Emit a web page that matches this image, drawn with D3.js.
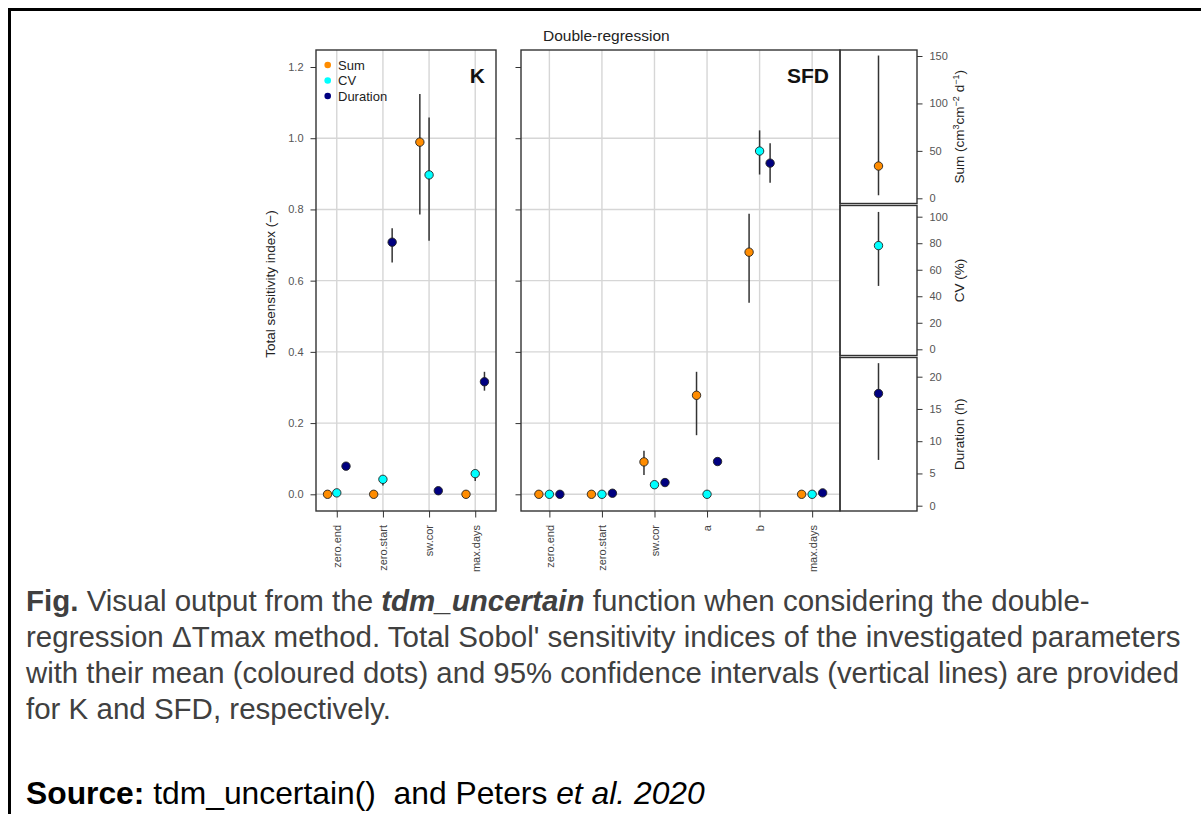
<!DOCTYPE html>
<html>
<head>
<meta charset="utf-8">
<script src="https://cdn.jsdelivr.net/npm/d3@7"></script>
<style>
  body { margin: 0; background: #fff; }
  svg { display: block; }
  text { font-family: "Liberation Sans", Arial, Helvetica, sans-serif; }
</style>
</head>
<body>
<svg id="fig" width="1201" height="814"></svg>
<script>
// ---- Parameters and series ----
const kParams   = ["zero.end", "zero.start", "sw.cor", "max.days"];
const sfdParams = ["zero.end", "zero.start", "sw.cor", "a", "b", "max.days"];
const seriesNames  = ["Sum", "CV", "Duration"];
const seriesColors = ["#ff8c00", "#00ffff", "#000080"];

// Total sensitivity index for K (mean, then 95% CI as [low, high] or null)
const kSum      = [0.000, 0.000, 0.989, 0.000];
const kSumCI    = [null, null, [0.786, 1.124], null];
const kCV       = [0.004, 0.042, 0.897, 0.058];
const kCVCI     = [null, [0.025, 0.046], [0.712, 1.058], [0.037, 0.064]];
const kDur      = [0.079, 0.708, 0.010, 0.316];
const kDurCI    = [null, [0.651, 0.747], null, [0.291, 0.344]];

// Total sensitivity index for SFD
const sfdSum    = [0.000, 0.000, 0.091, 0.278, 0.680, 0.000];
const sfdSumCI  = [null, null, [0.054, 0.122], [0.166, 0.344], [0.538, 0.788], null];
const sfdCV     = [0.000, 0.000, 0.027, 0.000, 0.964, 0.000];
const sfdCVCI   = [null, null, null, null, [0.898, 1.022], null];
const sfdDur    = [0.000, 0.003, 0.033, 0.092, 0.930, 0.004];
const sfdDurCI  = [null, null, null, null, [0.875, 0.986], null];

// Output summaries (mean and 95% CI)
const sumMean = 34.0,  sumCI = [3.2, 150.5];
const cvMean  = 78.2,  cvCI  = [47.8, 103.6];
const durMean = 17.4,  durCI = [7.1, 22.1];

// Tick labels
const indexTicks = [0, 0.2, 0.4, 0.6, 0.8, 1.0, 1.2];
const gridTicks  = [0, 0.2, 0.4, 0.6, 0.8, 1.0];
const sumTicks   = [0, 50, 100, 150];
const cvTicks    = [0, 20, 40, 60, 80, 100];
const durTicks   = [0, 5, 10, 15, 20];

// ---- Layout ----
const svg = d3.select("#fig");
const plotTop = 50, plotBottom = 511;
const gridColor = "#d6d6d6", boxColor = "#333", inkColor = "#444";
const offsets = [-0.2, 0, 0.2];

svg.append("rect").attr("width", 1201).attr("height", 814).attr("fill", "#fff");

// outer frame
svg.append("path").attr("d", "M9.5,814V9.5H1201")
  .attr("fill", "none").attr("stroke", "#000").attr("stroke-width", 3);

const y = d3.scaleLinear().domain([0, 1.2]).range([494.3, 67]);

function indexPanel(params, series, left, right, domain, label, showLabels) {
  const x = d3.scaleLinear().domain(domain).range([left, right]);
  const g = svg.append("g");
  // grid
  g.selectAll(".vg").data(params).join("line")
    .attr("x1", (d, i) => x(i + 1)).attr("x2", (d, i) => x(i + 1))
    .attr("y1", plotTop).attr("y2", plotBottom)
    .attr("stroke", gridColor).attr("stroke-width", 1.4);
  g.selectAll(".hg").data(gridTicks).join("line")
    .attr("x1", left).attr("x2", right)
    .attr("y1", d => y(d)).attr("y2", d => y(d))
    .attr("stroke", gridColor).attr("stroke-width", 1.4);

  // left axis
  const ax = g.append("g").attr("transform", `translate(${left},0)`)
    .call(d3.axisLeft(y).tickValues(indexTicks).tickFormat(d3.format(".1f"))
      .tickSize(5.5).tickPadding(7));
  ax.select(".domain").remove();
  ax.selectAll("line").attr("stroke", boxColor);
  ax.selectAll("text").attr("font-size", 11).attr("fill", "#555")
    .style("font-family", '"Liberation Sans", Arial, sans-serif');
  if (!showLabels) ax.selectAll("text").remove();

  // bottom axis with rotated labels
  const bx = g.append("g").attr("transform", `translate(0,${plotBottom})`)
    .call(d3.axisBottom(x).tickValues(params.map((d, i) => i + 1))
      .tickFormat((d) => params[d - 1]).tickSize(6.5));
  bx.select(".domain").remove();
  bx.selectAll("line").attr("stroke", boxColor);
  bx.selectAll("text").attr("font-size", 11).attr("fill", inkColor)
    .style("font-family", '"Liberation Sans", Arial, sans-serif')
    .attr("transform", "rotate(-90)").attr("text-anchor", "end")
    .attr("x", -14).attr("y", 0).attr("dy", "0.35em");

  // error bars and points
  series.forEach((s, si) => {
    const pts = s.mean.map((m, i) => ({ i, m, ci: s.ci[i] }));
    g.selectAll(null).data(pts.filter(p => p.ci)).join("line")
      .attr("x1", p => x(p.i + 1 + offsets[si])).attr("x2", p => x(p.i + 1 + offsets[si]))
      .attr("y1", p => y(p.ci[0])).attr("y2", p => y(p.ci[1]))
      .attr("stroke", "#333").attr("stroke-width", 1.5);
    g.selectAll(null).data(pts).join("circle")
      .attr("cx", p => x(p.i + 1 + offsets[si])).attr("cy", p => y(p.m))
      .attr("r", 4.2).attr("fill", seriesColors[si])
      .attr("stroke", "#222").attr("stroke-width", 0.9);
  });

  // box
  g.append("rect").attr("x", left).attr("y", plotTop)
    .attr("width", right - left).attr("height", plotBottom - plotTop)
    .attr("fill", "none").attr("stroke", boxColor).attr("stroke-width", 1.4);

  g.append("text").attr("x", right - 11).attr("y", 83)
    .attr("text-anchor", "end").attr("font-size", 21).attr("font-weight", "bold")
    .attr("fill", "#111").text(label);
  return x;
}

indexPanel(kParams, [
  { mean: kSum, ci: kSumCI }, { mean: kCV, ci: kCVCI }, { mean: kDur, ci: kDurCI }
], 316, 496, [0.55, 4.45], "K", true);

indexPanel(sfdParams, [
  { mean: sfdSum, ci: sfdSumCI }, { mean: sfdCV, ci: sfdCVCI }, { mean: sfdDur, ci: sfdDurCI }
], 521, 840, [0.46, 6.53], "SFD", false);

// legend
const legend = svg.append("g");
seriesNames.forEach((n, i) => {
  const ly = 65 + i * 15.5;
  legend.append("circle").attr("cx", 327.7).attr("cy", ly).attr("r", 3.3)
    .attr("fill", seriesColors[i]);
  legend.append("text").attr("x", 338).attr("y", ly + 4.6)
    .attr("font-size", 13).attr("fill", "#222").text(n);
});

// y-axis title
svg.append("text")
  .attr("transform", "translate(275,284) rotate(-90)")
  .attr("text-anchor", "middle").attr("font-size", 13.5).attr("fill", "#222")
  .text("Total sensitivity index (−)");

// title
svg.append("text").attr("x", 543).attr("y", 41)
  .attr("font-size", 15.5).attr("fill", "#222").text("Double-regression");

// ---- Output summary panels ----
const sLeft = 840, sRight = 917, sMid = (sLeft + sRight) / 2;
const summaries = [
  { top: 50,    bottom: 203.5, scale: d3.scaleLinear().domain([0, 150]).range([198.3, 56]),
    ticks: sumTicks, mean: sumMean, ci: sumCI, color: seriesColors[0] },
  { top: 205.5, bottom: 355.5, scale: d3.scaleLinear().domain([0, 100]).range([349.3, 216.7]),
    ticks: cvTicks, mean: cvMean, ci: cvCI, color: seriesColors[1] },
  { top: 357.5, bottom: 511,   scale: d3.scaleLinear().domain([0, 20]).range([505.7, 376.7]),
    ticks: durTicks, mean: durMean, ci: durCI, color: seriesColors[2] }
];

summaries.forEach((p, k) => {
  const g = svg.append("g");
  g.append("line").attr("x1", sMid).attr("x2", sMid)
    .attr("y1", p.scale(p.ci[0])).attr("y2", p.scale(p.ci[1]))
    .attr("stroke", "#333").attr("stroke-width", 1.5);
  g.append("circle").attr("cx", sMid).attr("cy", p.scale(p.mean)).attr("r", 4.2)
    .attr("fill", p.color).attr("stroke", "#222").attr("stroke-width", 0.9);
  g.append("rect").attr("x", sLeft).attr("y", p.top)
    .attr("width", sRight - sLeft).attr("height", p.bottom - p.top)
    .attr("fill", "none").attr("stroke", boxColor).attr("stroke-width", 1.4);
  const ax = g.append("g").attr("transform", `translate(${sRight},0)`)
    .call(d3.axisRight(p.scale).tickValues(p.ticks).tickSize(5.5).tickPadding(7));
  ax.select(".domain").remove();
  ax.selectAll("line").attr("stroke", boxColor);
  ax.selectAll("text").attr("font-size", 11).attr("fill", "#555")
    .style("font-family", '"Liberation Sans", Arial, sans-serif');

  const t = g.append("text")
    .attr("transform", `translate(964,${(p.top + p.bottom) / 2}) rotate(-90)`)
    .attr("text-anchor", "middle").attr("font-size", 13.5).attr("fill", "#222");
  if (k === 0) {
    t.append("tspan").text("Sum (cm");
    t.append("tspan").attr("baseline-shift", "super").attr("font-size", 9).text("3");
    t.append("tspan").text("cm");
    t.append("tspan").attr("baseline-shift", "super").attr("font-size", 9).text("−2");
    t.append("tspan").text(" d");
    t.append("tspan").attr("baseline-shift", "super").attr("font-size", 9).text("−1");
    t.append("tspan").text(")");
  } else if (k === 1) {
    t.text("CV (%)");
  } else {
    t.text("Duration (h)");
  }
});

// ---- Caption ----
const cap = svg.append("g").attr("font-size", 29.5);
const capX = 26;
const l1 = cap.append("text").attr("x", capX).attr("y", 611).attr("fill", "#404040");
l1.append("tspan").attr("font-weight", "bold").text("Fig.");
l1.append("tspan").text(" Visual output from the ");
l1.append("tspan").attr("font-weight", "bold").attr("font-style", "italic").text("tdm_uncertain");
l1.append("tspan").text(" function when considering the double-");
cap.append("text").attr("x", capX).attr("y", 647).attr("fill", "#404040")
  .text("regression ΔTmax method. Total Sobol' sensitivity indices of the investigated parameters");
cap.append("text").attr("x", capX).attr("y", 683).attr("fill", "#404040")
  .attr("font-size", 29.3)
  .text("with their mean (coloured dots) and 95% confidence intervals (vertical lines) are provided");
cap.append("text").attr("x", capX).attr("y", 719).attr("fill", "#404040")
  .text("for K and SFD, respectively.");
const src = cap.append("text").attr("x", capX).attr("y", 804).attr("fill", "#000")
  .attr("font-size", 31.8).style("white-space", "pre");
src.append("tspan").attr("font-weight", "bold").text("Source:");
src.append("tspan").text(" tdm_uncertain()  and Peters ");
src.append("tspan").attr("font-style", "italic").text("et al. 2020");
</script>
</body>
</html>
